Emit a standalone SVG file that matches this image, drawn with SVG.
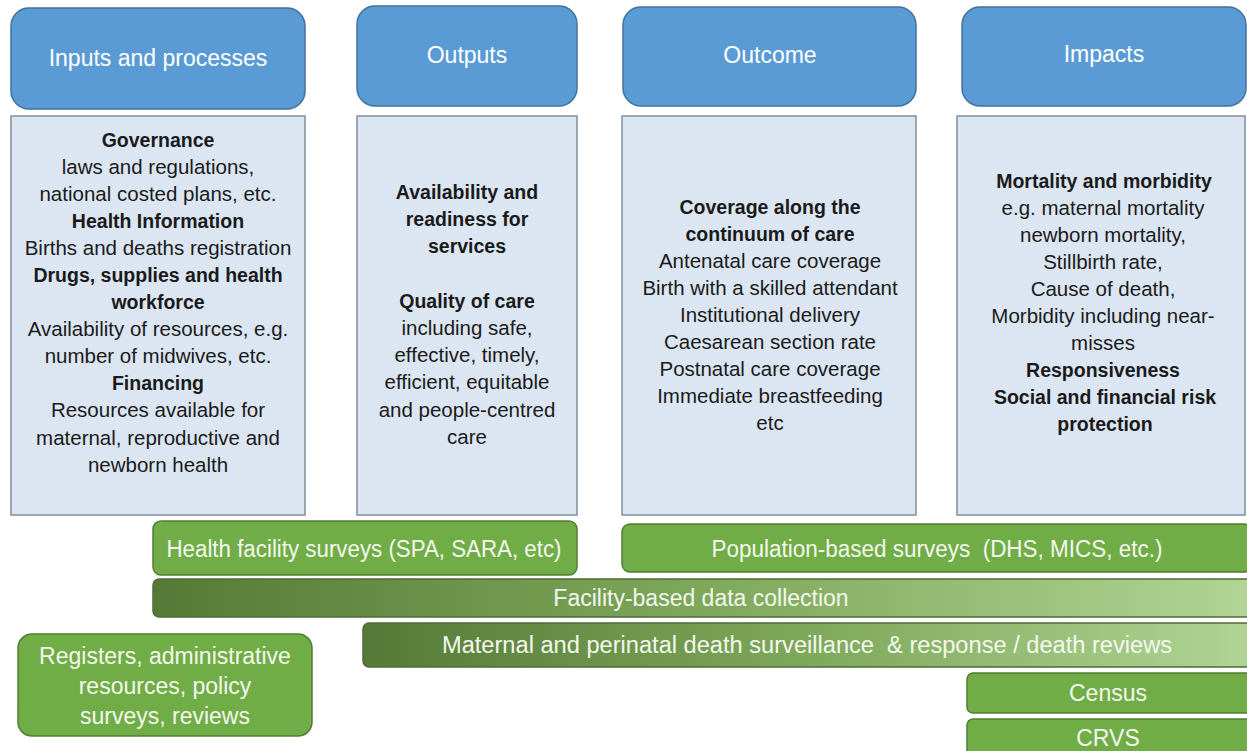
<svg xmlns="http://www.w3.org/2000/svg" width="1247" height="751" viewBox="0 0 1247 751">
<defs>
<style>
.hdr{fill:#5b9bd5;stroke:#41719c;stroke-width:1.5}
.hdrt{font-family:"Liberation Sans",Arial,sans-serif;font-size:23px;fill:#ffffff;text-anchor:middle}
.box{fill:#dce6f2;stroke:#7f8f9e;stroke-width:1.5}
.bt{font-family:"Liberation Sans",Arial,sans-serif;font-size:20.5px;fill:#1a1a1a;text-anchor:middle}
.b{font-weight:bold;font-size:19.5px}
.grn{fill:#70ad47;stroke:#507e32;stroke-width:1.5}
.gt{font-family:"Liberation Sans",Arial,sans-serif;font-size:23px;fill:#f4f8ee;text-anchor:middle}
</style>
<linearGradient id="gbar" x1="0" y1="0" x2="1" y2="0">
<stop offset="0" stop-color="#557a37"/>
<stop offset="0.5" stop-color="#7ea85a"/>
<stop offset="1" stop-color="#b0d595"/>
</linearGradient>
</defs>
<rect width="1247" height="751" fill="#ffffff"/>

<g id="hdr-inputs">
<rect class="hdr" x="11" y="8" width="294" height="101" rx="18"/>
<text class="hdrt" x="158" y="66">Inputs and processes</text>
</g>
<g id="hdr-outputs">
<rect class="hdr" x="357" y="6" width="220" height="100" rx="18"/>
<text class="hdrt" x="467" y="63">Outputs</text>
</g>
<g id="hdr-outcome">
<rect class="hdr" x="623" y="7" width="293" height="99" rx="18"/>
<text class="hdrt" x="770" y="63">Outcome</text>
</g>
<g id="hdr-impacts">
<rect class="hdr" x="962" y="7" width="284" height="99" rx="18"/>
<text class="hdrt" x="1104" y="62">Impacts</text>
</g>

<g id="box-inputs">
<rect class="box" x="11" y="116" width="294" height="399"/>
<text class="bt b" x="158" y="147">Governance</text>
<text class="bt" x="158" y="174">laws and regulations,</text>
<text class="bt" x="158" y="201">national costed plans, etc.</text>
<text class="bt b" x="158" y="228">Health Information</text>
<text class="bt" x="158" y="255">Births and deaths registration</text>
<text class="bt b" x="158" y="282">Drugs, supplies and health</text>
<text class="bt b" x="158" y="309">workforce</text>
<text class="bt" x="158" y="336">Availability of resources, e.g.</text>
<text class="bt" x="158" y="363">number of midwives, etc.</text>
<text class="bt b" x="158" y="390">Financing</text>
<text class="bt" x="158" y="417">Resources available for</text>
<text class="bt" x="158" y="445">maternal, reproductive and</text>
<text class="bt" x="158" y="472">newborn health</text>
</g>

<g id="box-outputs">
<rect class="box" x="357" y="116" width="220" height="399"/>
<text class="bt b" x="467" y="199">Availability and</text>
<text class="bt b" x="467" y="226">readiness for</text>
<text class="bt b" x="467" y="253">services</text>
<text class="bt b" x="467" y="308">Quality of care</text>
<text class="bt" x="467" y="335">including safe,</text>
<text class="bt" x="467" y="362">effective, timely,</text>
<text class="bt" x="467" y="389">efficient, equitable</text>
<text class="bt" x="467" y="417">and people-centred</text>
<text class="bt" x="467" y="444">care</text>
</g>

<g id="box-outcome">
<rect class="box" x="622" y="116" width="294" height="399"/>
<text class="bt b" x="770" y="214">Coverage along the</text>
<text class="bt b" x="770" y="241">continuum of care</text>
<text class="bt" x="770" y="268">Antenatal care coverage</text>
<text class="bt" x="770" y="295">Birth with a skilled attendant</text>
<text class="bt" x="770" y="322">Institutional delivery</text>
<text class="bt" x="770" y="349">Caesarean section rate</text>
<text class="bt" x="770" y="376">Postnatal care coverage</text>
<text class="bt" x="770" y="403">Immediate breastfeeding</text>
<text class="bt" x="770" y="430">etc</text>
</g>

<g id="box-impacts">
<rect class="box" x="957" y="116" width="288" height="399"/>
<text class="bt b" x="1104" y="188">Mortality and morbidity</text>
<text class="bt" x="1103" y="215">e.g. maternal mortality</text>
<text class="bt" x="1103" y="242">newborn mortality,</text>
<text class="bt" x="1103" y="269">Stillbirth rate,</text>
<text class="bt" x="1103" y="296">Cause of death,</text>
<text class="bt" x="1103" y="323">Morbidity including near-</text>
<text class="bt" x="1103" y="350">misses</text>
<text class="bt b" x="1103" y="377">Responsiveness</text>
<text class="bt b" x="1105" y="404">Social and financial risk</text>
<text class="bt b" x="1105" y="431">protection</text>
</g>

<g id="health-facility-surveys">
<rect class="grn" x="153" y="521" width="424" height="54" rx="8"/>
<text class="gt" x="364" y="557" textLength="395" lengthAdjust="spacingAndGlyphs">Health facility surveys (SPA, SARA, etc)</text>
</g>
<g id="population-surveys">
<rect class="grn" x="622" y="524" width="630" height="48" rx="8"/>
<text class="gt" x="937" y="557" textLength="451" lengthAdjust="spacingAndGlyphs" xml:space="preserve">Population-based surveys  (DHS, MICS, etc.)</text>
</g>
<g id="facility-data">
<rect x="153" y="579" width="1100" height="38" rx="6" fill="url(#gbar)" stroke="#4f6b36" stroke-width="1.5"/>
<text class="gt" x="701" y="606">Facility-based data collection</text>
</g>
<g id="mpdsr">
<rect x="363" y="623" width="890" height="44" rx="6" fill="url(#gbar)" stroke="#4f6b36" stroke-width="1.5"/>
<text class="gt" x="807" y="653" textLength="730" lengthAdjust="spacingAndGlyphs" xml:space="preserve">Maternal and perinatal death surveillance  &amp; response / death reviews</text>
</g>
<g id="registers">
<rect class="grn" x="18" y="634" width="294" height="102" rx="14"/>
<text class="gt" x="165" y="664">Registers, administrative</text>
<text class="gt" x="165" y="694">resources, policy</text>
<text class="gt" x="165" y="724">surveys, reviews</text>
</g>
<g id="census">
<rect class="grn" x="967" y="673" width="286" height="40" rx="6"/>
<text class="gt" x="1108" y="701">Census</text>
</g>
<g id="crvs">
<rect class="grn" x="967" y="719" width="286" height="40" rx="6"/>
<text class="gt" x="1108" y="746">CRVS</text>
</g>
<g id="connectors"></g>
</svg>
